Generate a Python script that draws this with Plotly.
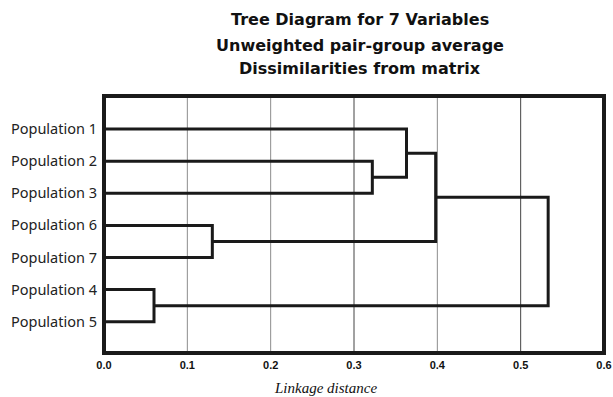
import plotly.graph_objects as go

# ---- data ----
leaves = ["Population 1", "Population 2", "Population 3", "Population 6",
          "Population 7", "Population 4", "Population 5"]
# merges create clusters 7..12; children indexed (0..6 = leaves)
merge_a = [5, 3, 1, 0, 10, 11]
merge_b = [6, 4, 2, 9, 8, 7]
merge_dist = [0.06, 0.130, 0.322, 0.363, 0.398, 0.533]
x_ticks = [0.0, 0.1, 0.2, 0.3, 0.4, 0.5, 0.6]
grid_vals = [0.1, 0.2, 0.3, 0.4, 0.5]
grid_colors = ["#8c8c8c", "#8c8c8c", "#444444", "#8c8c8c", "#444444"]
title_lines = ["Tree Diagram for 7 Variables", "Unweighted pair-group average",
               "Dissimilarities from matrix"]
x_title = "Linkage distance"

# ---- layout constants (pixels) ----
W, H = 613, 397
L, R, T, B = 104, 9, 96, 44
PW, PH = W - L - R, H - T - B


def px_x(p):
    return (p - L) / PW


def px_y(p):
    return (H - B - p) / PH


# ---- build dendrogram geometry ----
ypos = {i: float(i) for i in range(len(leaves))}
height = {i: 0.0 for i in range(len(leaves))}
xs, ys = [], []
for k, (a, b, d) in enumerate(zip(merge_a, merge_b, merge_dist)):
    node = len(leaves) + k
    xs += [height[a], d, d, height[b], None]
    ys += [ypos[a], ypos[a], ypos[b], ypos[b], None]
    ypos[node] = (ypos[a] + ypos[b]) / 2
    height[node] = d

fig = go.Figure()
for gv, gc in zip(grid_vals, grid_colors):
    fig.add_vline(x=gv, line=dict(color=gc, width=1), layer="below")

fig.add_trace(go.Scatter(x=xs, y=ys, mode="lines",
                         line=dict(color="#1a1a1a", width=3),
                         hoverinfo="skip", showlegend=False))

# frame centred on the plot-area edges
fig.add_shape(type="rect", xref="paper", yref="paper", x0=0, x1=1, y0=0, y1=1,
              line=dict(color="#1a1a1a", width=4), layer="above")

fig.update_layout(
    width=W, height=H,
    margin=dict(l=L, r=R, t=T, b=B, autoexpand=False),
    paper_bgcolor="white", plot_bgcolor="white",
    showlegend=False,
    xaxis=dict(range=[0, 0.6], tickvals=x_ticks,
               ticktext=["<b>%.1f</b>" % v for v in x_ticks],
               tickfont=dict(family="Liberation Sans", size=11, color="#111111"),
               showgrid=False, zeroline=False, showline=False, ticks="",
               ticklabelstandoff=4, automargin=False),
    yaxis=dict(range=[6.975, -1.03], tickvals=list(range(len(leaves))),
               ticktext=leaves,
               tickfont=dict(family="Noto Sans", size=14.5, color="#222222"),
               showgrid=False, zeroline=False, showline=False, ticks="",
               ticklabelstandoff=6, automargin=False),
)

title_y = [20, 45, 69]
for txt, yp in zip(title_lines, title_y):
    fig.add_annotation(text="<b>%s</b>" % txt, x=px_x(360), y=px_y(yp),
                       xref="paper", yref="paper", showarrow=False,
                       xanchor="center", yanchor="middle",
                       font=dict(family="DejaVu Sans", size=16, color="#111111"))

fig.add_annotation(text="<i>%s</i>" % x_title, x=px_x(325), y=px_y(388),
                   xref="paper", yref="paper", showarrow=False,
                   xanchor="center", yanchor="middle",
                   font=dict(family="Liberation Serif", size=15, color="#111111"))

fig.write_html("out.html", config={"displayModeBar": False},
               post_script="document.body.style.margin='0';"
                           "document.body.style.overflow='hidden';")
